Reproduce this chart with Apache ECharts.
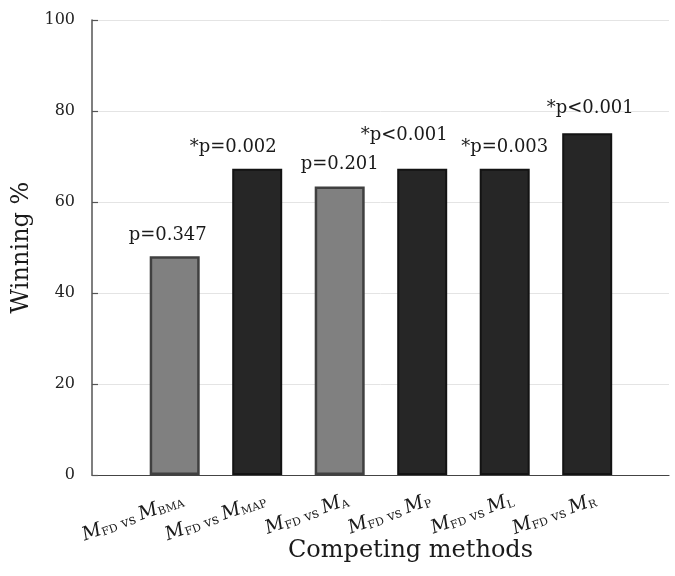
<!DOCTYPE html>
<html>
<head>
<meta charset="utf-8">
<script src="https://cdn.jsdelivr.net/npm/echarts@6/dist/echarts.min.js"></script>
<style>
  html, body { margin: 0; padding: 0; background: #fff; }
  #chart { width: 675px; height: 576px; }
</style>
</head>
<body>
<div id="chart"></div>
<script>
// ---- data ----
const methodSubscripts = ['BMA', 'MAP', 'A', 'P', 'L', 'R'];
const winningPercent = [48.1, 67.3, 63.4, 67.3, 67.3, 75.1];
const pValueLabels = ['p=0.347', '*p=0.002', 'p=0.201', '*p<0.001', '*p=0.003', '*p<0.001'];
const significant = [false, true, false, true, true, true];
const yTicks = [0, 20, 40, 60, 80, 100];

// ---- style (not data) ----
const FONT = 'DejaVu Serif';
const pLabelOffsets = [[-7, 0], [-24, 0], [0, -1], [-18, -12], [0, 0], [3, -4]];

const chart = echarts.init(document.getElementById('chart'), null, { renderer: 'canvas' });

const barData = winningPercent.map((v, i) => ({
  value: v,
  itemStyle: significant[i]
    ? { color: '#262626', borderColor: '#131313', borderWidth: 2 }
    : { color: '#808080', borderColor: '#404040', borderWidth: 2.5 },
  label: { offset: pLabelOffsets[i] }
}));

const option = {
  animation: false,
  backgroundColor: '#ffffff',
  grid: [
    { left: 92, right: 6, top: 20, bottom: 101 },
    { left: 133.45, right: 46.55, top: 20, bottom: 101 }
  ],
  xAxis: [
    {
      gridIndex: 0, type: 'value', min: 0, max: 1,
      axisLine: { show: true, lineStyle: { color: '#444444', width: 1.2 } },
      axisTick: { show: false }, axisLabel: { show: false }, splitLine: { show: false },
      name: 'Competing methods', nameLocation: 'middle', nameGap: 64,
      nameTextStyle: { fontFamily: FONT, fontSize: 24, color: '#1a1a1a', padding: [0, 0, 0, 60] }
    },
    {
      gridIndex: 1, type: 'category', data: methodSubscripts,
      axisLine: { show: false }, axisTick: { show: false },
      axisLabel: {
        interval: 0, rotate: 20, align: 'right', verticalAlign: 'middle', margin: 2,
        padding: [47, 0, 0, 0],
        formatter: (v) => '{m|M}{sub|FD}{vs| vs }{m|M}{sub|' + v + '}',
        rich: {
          m: { fontFamily: FONT, fontStyle: 'italic', fontSize: 19, color: '#1a1a1a', lineHeight: 20, verticalAlign: 'bottom' },
          sub: { fontFamily: FONT, fontSize: 11, color: '#1a1a1a', lineHeight: 8, verticalAlign: 'bottom' },
          vs: { fontFamily: FONT, fontSize: 14, color: '#1a1a1a', lineHeight: 15, verticalAlign: 'bottom' }
        }
      }
    }
  ],
  yAxis: [
    {
      gridIndex: 0, type: 'value', min: yTicks[0], max: yTicks[yTicks.length - 1], interval: 20,
      axisLine: { show: true, lineStyle: { color: '#555555', width: 1.5 } },
      axisTick: { show: true, inside: true, length: 6, lineStyle: { color: '#555555', width: 1.2 } },
      splitLine: { show: true, lineStyle: { color: '#e4e4e4', width: 1 } },
      axisLabel: { fontFamily: FONT, fontSize: 16, color: '#222222', margin: 17 },
      name: 'Winning %', nameLocation: 'middle', nameGap: 57, nameRotate: 90,
      nameTextStyle: { fontFamily: FONT, fontSize: 24, color: '#1a1a1a' }
    },
    {
      gridIndex: 1, type: 'value', min: yTicks[0], max: yTicks[yTicks.length - 1], show: false
    }
  ],
  series: [
    {
      type: 'bar', xAxisIndex: 1, yAxisIndex: 1,
      barWidth: 50,
      data: barData,
      label: {
        show: true, position: 'top', distance: 12,
        fontFamily: FONT, fontSize: 18, color: '#1a1a1a',
        formatter: (p) => pValueLabels[p.dataIndex]
      }
    }
  ]
};

chart.setOption(option);
</script>
</body>
</html>
